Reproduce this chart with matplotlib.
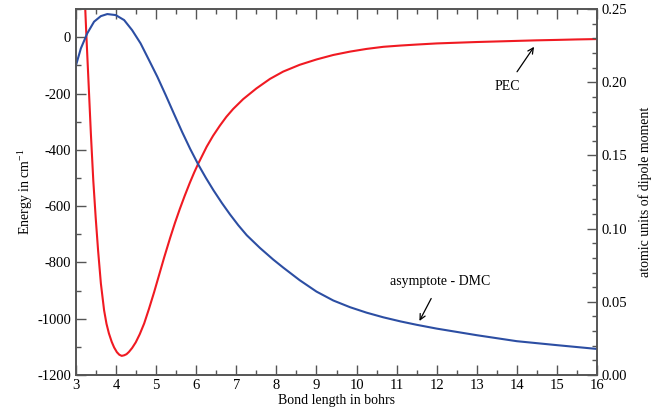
import numpy as np
import matplotlib
matplotlib.use("Agg")
import matplotlib.pyplot as plt
from matplotlib.ticker import MultipleLocator, FormatStrFormatter

plt.rcParams['font.family'] = ['Liberation Serif', 'DejaVu Serif']
plt.rcParams['mathtext.fontset'] = 'custom'
plt.rcParams['mathtext.rm'] = 'Liberation Serif'
plt.rcParams['font.size'] = 10
plt.rcParams['axes.unicode_minus'] = False

# potential energy curve (cm^-1)
pec_r = [3.0, 3.1, 3.18, 3.23, 3.26, 3.32, 3.37, 3.43, 3.49, 3.55, 3.62, 3.70, 3.76,
         3.82, 3.89, 3.95, 4.02, 4.08, 4.14, 4.20, 4.26, 4.32, 4.40, 4.49, 4.59,
         4.70, 4.82, 4.95, 5.07, 5.20, 5.35, 5.47, 5.59, 5.71, 5.84, 5.95, 6.05, 6.26,
         6.42, 6.59, 6.75, 6.92, 7.17, 7.50, 7.84, 8.17, 8.58, 9.0, 9.42, 9.84,
         10.25, 10.67, 11.1, 11.5, 12.0, 12.5, 13.0, 13.5, 14.0, 14.5, 15.0, 15.5, 16.0]
pec_e = [1050, 600, 280, 100, 0, -185, -342, -508, -640, -757, -875, -970, -1018,
         -1052, -1082, -1102, -1119, -1128, -1132, -1130, -1126, -1118, -1104, -1084, -1055,
         -1017, -965, -905, -846, -782, -712, -659, -610, -564, -517, -480, -449, -389,
         -350, -314, -283, -255, -220, -182, -148, -122, -98, -79, -63, -51,
         -41.5, -34, -29.5, -26, -22, -19.5, -17, -15, -13, -11, -9.5, -7.8, -6.5]

# dipole moment curve (a.u.)
dmc_r = [3.0, 3.12, 3.28, 3.45, 3.62, 3.78, 3.99, 4.20, 4.40, 4.61, 4.82, 5.03, 5.24,
         5.45, 5.65, 5.85, 6.05, 6.24, 6.43, 6.64, 6.84, 7.05, 7.26, 7.59, 7.92,
         8.17, 8.58, 9.0, 9.42, 9.84, 10.25, 10.67, 11.1, 11.5, 12.0, 13.0, 14.0,
         15.0, 16.0]
dmc_d = [0.2117, 0.2231, 0.2334, 0.2414, 0.2452, 0.2466, 0.2459, 0.2425, 0.2356, 0.2266,
         0.2152, 0.2037, 0.1911, 0.1781, 0.1659, 0.1544, 0.1438, 0.1347, 0.1262, 0.1175,
         0.1098, 0.1023, 0.0955, 0.0868, 0.0789, 0.0734, 0.0648, 0.0570, 0.0509,
         0.0463, 0.0426, 0.0394, 0.0366, 0.0343, 0.0317, 0.0272, 0.0231, 0.0204, 0.0178]

fig = plt.figure(figsize=(6.67, 4.13), dpi=100)
ax = fig.add_axes([0.114, 0.092, 0.781, 0.886])
ax2 = ax.twinx()

ax.plot(pec_r, pec_e, color='#f01a22', lw=1.5)
ax2.plot(dmc_r, dmc_d, color='#2c4ea3', lw=1.5)

ax.set_xlim(3, 16)
ax.set_ylim(-1200, 100)
ax2.set_ylim(0, 0.25)

ax.xaxis.set_major_locator(MultipleLocator(1))
ax.xaxis.set_minor_locator(MultipleLocator(0.5))
ax.yaxis.set_major_locator(MultipleLocator(200))
ax.yaxis.set_minor_locator(MultipleLocator(100))
ax2.yaxis.set_major_locator(MultipleLocator(0.05))
ax2.yaxis.set_minor_locator(MultipleLocator(0.01))
ax2.yaxis.set_major_formatter(FormatStrFormatter('%.2f'))

for a in (ax, ax2):
    a.tick_params(which='major', direction='in', length=7.5, width=1, color='#555555',
                  labelsize=10.5)
    a.tick_params(which='minor', direction='in', length=3.8, width=1, color='#555555')
    for s in a.spines.values():
        s.set_color('#555555')
        s.set_linewidth(1.2)
ax.tick_params(which='both', top=True, right=False)
ax.tick_params(axis='x', pad=3)

ax.set_xlabel('Bond length in bohrs', labelpad=1)
ax.set_ylabel(r'Energy in cm$^{\mathregular{-1}}$', labelpad=2)
ax2.set_ylabel('atomic units of dipole moment', rotation=90, labelpad=8)

ax.annotate('PEC', xy=(14.43, -34), xytext=(13.75, -176),
            ha='center', va='center',
            arrowprops=dict(arrowstyle='->', color='black', lw=0.9, shrinkA=5, shrinkB=0))
ax.annotate('asymptote - DMC', xy=(11.57, -1008), xytext=(12.08, -869),
            ha='center', va='center',
            arrowprops=dict(arrowstyle='->', color='black', lw=0.9, shrinkA=6, shrinkB=0))

fig.savefig('out.png', dpi=100)
